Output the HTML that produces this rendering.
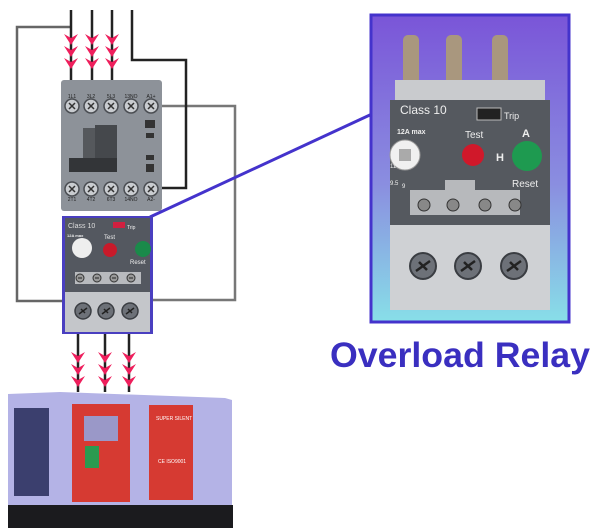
<!DOCTYPE html>
<html><head><meta charset="utf-8"><style>
html,body{margin:0;padding:0;background:#fff;}
svg{display:block;font-family:"Liberation Sans",sans-serif;}
</style></head><body>
<svg width="600" height="528" viewBox="0 0 600 528" xmlns="http://www.w3.org/2000/svg">
<defs>
<linearGradient id="bg" x1="0" y1="0" x2="0" y2="1">
<stop offset="0" stop-color="#7a55d8"/><stop offset="0.55" stop-color="#8a8ee0"/><stop offset="1" stop-color="#88dfe8"/>
</linearGradient>
<g id="chev"><path d="M-7,-6 L0,-2 L7,-6 L0,5Z" fill="#ee1f5c"/></g>
<g id="scr"><circle r="7" fill="#c9ccd0" stroke="#4a4d52" stroke-width="1.5"/><path d="M-3,-3L3,3M3,-3L-3,3" stroke="#333" stroke-width="1.5"/></g>
<g id="sscr"><circle r="4" fill="#999" stroke="#333" stroke-width="1"/><path d="M-2,0H2" stroke="#222"/></g>
<g id="bscr"><circle r="13" fill="#6d7178" stroke="#3a3d42" stroke-width="2"/><path d="M-7,5L7,-5M-4,-4L4,4" stroke="#222" stroke-width="2.5"/></g>
<g id="mscr"><circle r="8" fill="#6d7178" stroke="#3a3d42" stroke-width="1.5"/><path d="M-4,3L4,-3M-2,-2L2,2" stroke="#222" stroke-width="1.5"/></g>
</defs>
<!-- wires -->
<path d="M71,27 H17 V301 H118" fill="none" stroke="#666" stroke-width="2.5"/>
<path d="M155,106 H235 V300 H140" fill="none" stroke="#777" stroke-width="2.5"/>
<path d="M132,10 V60 H186 V188 H155" fill="none" stroke="#222" stroke-width="2.5"/>
<g stroke="#222" stroke-width="2.5"><path d="M71,10V82M92,10V82M112,10V82"/><path d="M78,332V392M105,332V392M129,332V392"/></g>
<g>
<use href="#chev" x="71" y="40"/><use href="#chev" x="71" y="52"/><use href="#chev" x="71" y="64"/>
<use href="#chev" x="92" y="40"/><use href="#chev" x="92" y="52"/><use href="#chev" x="92" y="64"/>
<use href="#chev" x="112" y="40"/><use href="#chev" x="112" y="52"/><use href="#chev" x="112" y="64"/>
<use href="#chev" x="78" y="358"/><use href="#chev" x="78" y="370"/><use href="#chev" x="78" y="382"/>
<use href="#chev" x="105" y="358"/><use href="#chev" x="105" y="370"/><use href="#chev" x="105" y="382"/>
<use href="#chev" x="129" y="358"/><use href="#chev" x="129" y="370"/><use href="#chev" x="129" y="382"/>
</g>
<!-- contactor -->
<rect x="61" y="80" width="101" height="131" rx="3" fill="#8d9299"/>
<g font-size="5" fill="#222" text-anchor="middle"><text x="72" y="98">1L1</text><text x="91" y="98">3L2</text><text x="111" y="98">5L3</text><text x="131" y="98">13NO</text><text x="151" y="98">A1+</text>
<text x="72" y="201">2T1</text><text x="91" y="201">4T2</text><text x="111" y="201">6T3</text><text x="131" y="201">14NO</text><text x="151" y="201">A2-</text></g>
<use href="#scr" x="72" y="106"/><use href="#scr" x="91" y="106"/><use href="#scr" x="111" y="106"/><use href="#scr" x="131" y="106"/><use href="#scr" x="151" y="106"/>
<use href="#scr" x="72" y="189"/><use href="#scr" x="91" y="189"/><use href="#scr" x="111" y="189"/><use href="#scr" x="131" y="189"/><use href="#scr" x="151" y="189"/>
<rect x="83" y="128" width="12" height="32" fill="#55585c"/><rect x="95" y="125" width="22" height="40" fill="#45484c"/><rect x="69" y="158" width="48" height="14" fill="#333538"/>
<rect x="145" y="120" width="10" height="8" fill="#333"/><rect x="146" y="133" width="8" height="5" fill="#333"/><rect x="146" y="155" width="8" height="5" fill="#333"/><rect x="146" y="164" width="8" height="8" fill="#333"/>
<!-- small relay -->
<line x1="150" y1="217" x2="372" y2="114" stroke="#4433cc" stroke-width="3"/>
<rect x="62" y="216" width="91" height="118" fill="#4a3fc0"/>
<rect x="65" y="218" width="85" height="80" fill="#545860"/>
<rect x="65" y="292" width="85" height="40" fill="#c4c6ca"/>
<text x="68" y="228" font-size="7" fill="#ddd">Class 10</text>
<rect x="113" y="222" width="12" height="6" fill="#d02040"/><text x="127" y="229" font-size="5" fill="#eee">Trip</text>
<text x="67" y="237" font-size="4" font-weight="bold" fill="#eee">12A max</text>
<circle cx="82" cy="248" r="10" fill="#eee"/><circle cx="110" cy="250" r="7" fill="#c81a2a"/><circle cx="143" cy="249" r="8" fill="#1a8a4a"/>
<text x="104" y="239" font-size="6" fill="#eee">Test</text><text x="130" y="264" font-size="6" fill="#eee">Reset</text>
<rect x="75" y="272" width="66" height="12" fill="#b8babe"/>
<use href="#sscr" x="80" y="278"/><use href="#sscr" x="97" y="278"/><use href="#sscr" x="114" y="278"/><use href="#sscr" x="131" y="278"/>
<use href="#mscr" x="83" y="311"/><use href="#mscr" x="106" y="311"/><use href="#mscr" x="130" y="311"/>
<!-- big box -->
<rect x="371" y="15" width="198" height="307" fill="url(#bg)" stroke="#4433cc" stroke-width="3"/>
<g fill="#a9977e"><rect x="403" y="35" width="16" height="50" rx="5"/><rect x="446" y="35" width="16" height="50" rx="5"/><rect x="492" y="35" width="16" height="50" rx="5"/></g>
<rect x="395" y="80" width="150" height="20" fill="#c9cbce"/>
<rect x="390" y="100" width="160" height="210" fill="#55595f"/>
<text x="400" y="114" font-size="12" fill="#eee">Class 10</text>
<rect x="477" y="108" width="24" height="12" fill="#222" stroke="#bbb"/><text x="504" y="119" font-size="9" fill="#eee">Trip</text>
<text x="397" y="134" font-size="7" font-weight="bold" fill="#eee">12A max</text>
<circle cx="405" cy="155" r="15" fill="#f0f0f0" stroke="#999"/><path d="M399,149h12v12h-12z" fill="#aaa"/>
<text x="465" y="138" font-size="10" fill="#eee">Test</text><circle cx="473" cy="155" r="11" fill="#d0182a"/>
<text x="496" y="161" font-size="11" font-weight="bold" fill="#eee">H</text><text x="522" y="137" font-size="11" font-weight="bold" fill="#eee">A</text>
<circle cx="527" cy="156" r="15" fill="#1e9a50"/><text x="512" y="187" font-size="10" fill="#eee">Reset</text>
<text x="390" y="168" font-size="6" fill="#eee">11</text><text x="390" y="185" font-size="6" fill="#eee">9.5</text><text x="402" y="188" font-size="6" fill="#eee">9</text>
<rect x="410" y="190" width="110" height="25" fill="#b7b9bc"/><rect x="445" y="180" width="30" height="12" fill="#b7b9bc"/>
<g transform="translate(424,205)"><circle r="6" fill="#888" stroke="#333"/></g><g transform="translate(453,205)"><circle r="6" fill="#888" stroke="#333"/></g>
<g transform="translate(485,205)"><circle r="6" fill="#888" stroke="#333"/></g><g transform="translate(515,205)"><circle r="6" fill="#888" stroke="#333"/></g>
<rect x="390" y="225" width="160" height="85" fill="#cfd1d4"/>
<use href="#bscr" x="423" y="266"/><use href="#bscr" x="468" y="266"/><use href="#bscr" x="514" y="266"/>
<text x="330" y="367" font-size="35" font-weight="bold" fill="#3a2fc0" textLength="260" lengthAdjust="spacingAndGlyphs">Overload Relay</text>
<!-- generator -->
<path d="M8,394 L60,392 L225,398 L232,400 V508 H8Z" fill="#b4b3e6"/>
<rect x="14" y="408" width="35" height="88" fill="#3b3f6e"/>
<rect x="72" y="404" width="58" height="98" fill="#d63a32"/>
<rect x="84" y="416" width="34" height="25" fill="#9a98c8"/>
<rect x="85" y="446" width="14" height="22" fill="#2a9a50"/>
<rect x="149" y="405" width="44" height="95" fill="#d63a32"/>
<text x="156" y="420" font-size="5" fill="#fff">SUPER SILENT</text><text x="158" y="463" font-size="5" fill="#fff">CE ISO9001</text>
<rect x="8" y="505" width="225" height="23" fill="#1b1b1e"/>
</svg>
</body></html>
